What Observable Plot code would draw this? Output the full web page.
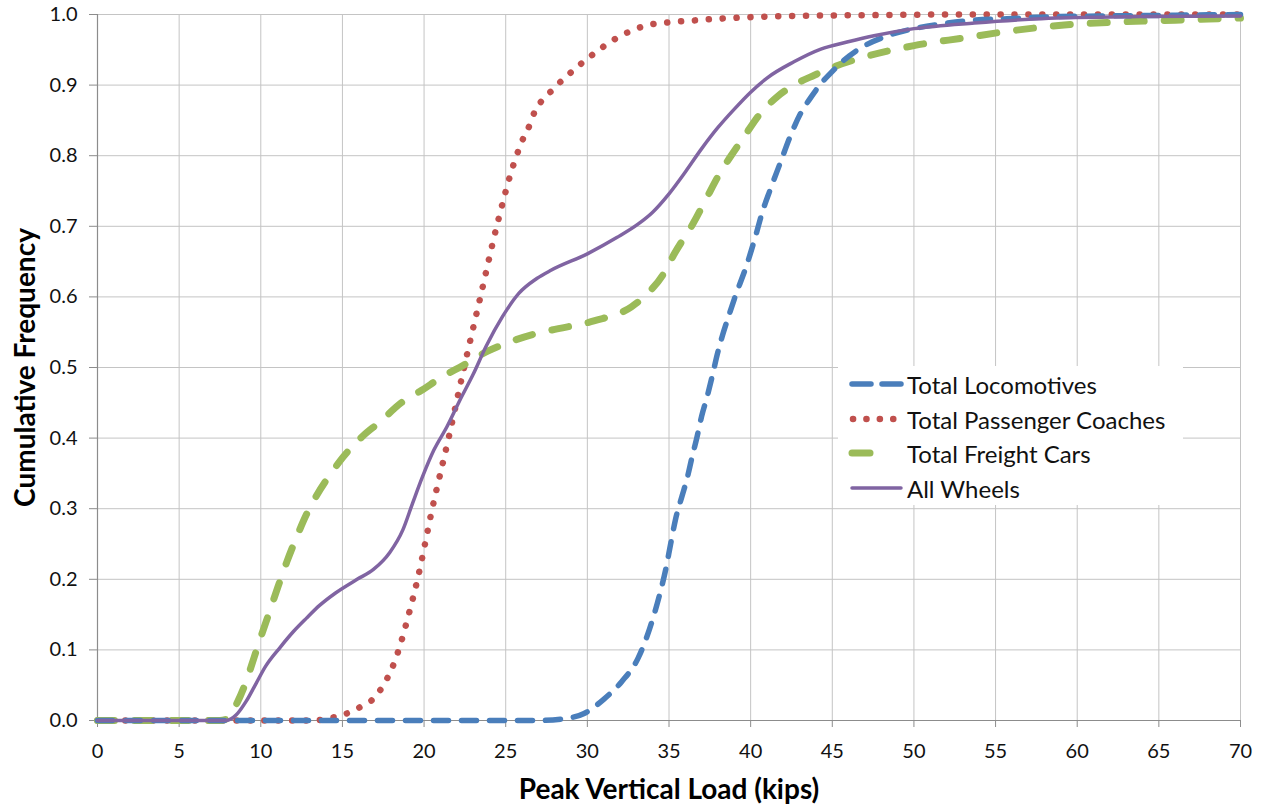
<!DOCTYPE html>
<html>
<head>
<meta charset="utf-8">
<script src="https://cdn.jsdelivr.net/npm/d3@7"></script>
<script src="https://cdn.jsdelivr.net/npm/@observablehq/plot@0.6"></script>
<style>
  body { margin: 0; background: #fff; font-family: Lato, "Open Sans", sans-serif; }
  #wrap { position: relative; width: 1264px; height: 805px; }
  #legend { position: absolute; left: 838px; top: 366px; width: 345px; height: 139px; background: #fff; }
  .row { position: absolute; left: 0; height: 30px; display: flex; align-items: center; font-size: 24px; color: #111; white-space: nowrap; }
  .row svg { display: block; }
</style>
</head>
<body>
<div id="wrap"><div id="chart"></div><div id="legend"></div></div>
<script>
// ---- data ----
const xTicks = [0, 5, 10, 15, 20, 25, 30, 35, 40, 45, 50, 55, 60, 65, 70];
const yTicks = [0, 0.1, 0.2, 0.3, 0.4, 0.5, 0.6, 0.7, 0.8, 0.9, 1.0];

const seriesNames = ["Total Locomotives", "Total Passenger Coaches", "Total Freight Cars", "All Wheels"];

const locoX = [0, 10, 20, 27, 28.4, 29.8, 31.0, 32.1, 33.1, 33.8, 34.4, 34.8, 35.1, 35.4, 35.8, 36.1, 36.4, 36.7, 37.0, 37.35, 37.65, 37.96, 38.27, 38.6, 39.0, 39.8, 40.3, 40.7, 41.2, 41.8, 42.45, 43.06, 43.7, 44.3, 44.9, 45.7, 46.7, 48.4, 50, 51.8, 53.7, 55.7, 58.8, 62, 66, 70];
const locoY = [0, 0, 0, 0, 0.002, 0.01, 0.03, 0.055, 0.088, 0.129, 0.176, 0.214, 0.25, 0.285, 0.318, 0.342, 0.372, 0.40, 0.431, 0.46, 0.488, 0.519, 0.545, 0.569, 0.597, 0.648, 0.686, 0.719, 0.752, 0.789, 0.829, 0.86, 0.883, 0.902, 0.917, 0.935, 0.952, 0.97, 0.98, 0.987, 0.992, 0.994, 0.997, 0.998, 0.999, 1.0];

const passX = [0, 10, 13, 14, 14.7, 15.5, 16.3, 17.0, 17.5, 18.0, 18.5, 19.0, 19.6, 20.5, 21.5, 22.45, 23.45, 24.45, 25.5, 26.1, 26.5, 26.8, 27.3, 27.9, 28.55, 29.2, 29.86, 30.55, 31.2, 31.9, 32.8, 33.7, 35.0, 36.2, 38.0, 39.7, 42.6, 47, 52, 70];
const passY = [0, 0, 0, 0.002, 0.006, 0.012, 0.022, 0.033, 0.05, 0.072, 0.104, 0.145, 0.2, 0.3, 0.4, 0.5, 0.6, 0.7, 0.789, 0.826, 0.845, 0.864, 0.88, 0.894, 0.909, 0.922, 0.935, 0.947, 0.958, 0.968, 0.978, 0.985, 0.989, 0.991, 0.994, 0.996, 0.998, 0.999, 1.0, 1.0];

const freightX = [0, 7.5, 7.9, 8.55, 9.1, 9.6, 10.0, 10.55, 11.06, 11.6, 12.2, 12.8, 13.4, 14.3, 15.0, 16.3, 17.3, 18.6, 19.8, 21.2, 22.4, 23.8, 25.0, 26.7, 27.8, 30.4, 32.7, 33.7, 34.7, 35.3, 36.5, 37.3, 38.06, 38.8, 39.6, 40.6, 41.6, 42.65, 43.9, 45.1, 47.0, 50, 53.1, 56, 59.2, 62.1, 66, 70];
const freightY = [0, 0, 0.002, 0.025, 0.055, 0.09, 0.118, 0.155, 0.19, 0.225, 0.26, 0.292, 0.318, 0.35, 0.372, 0.404, 0.423, 0.45, 0.467, 0.488, 0.503, 0.522, 0.534, 0.547, 0.553, 0.566, 0.586, 0.605, 0.634, 0.66, 0.705, 0.74, 0.773, 0.80, 0.827, 0.86, 0.883, 0.9, 0.914, 0.926, 0.94, 0.956, 0.967, 0.977, 0.985, 0.989, 0.992, 0.995];

const allX = [0, 7.9, 8.5, 9.1, 9.7, 10.3, 11.2, 12.0, 12.8, 13.6, 14.6, 15.9, 16.9, 17.9, 18.7, 19.3, 19.9, 20.6, 21.4, 22.2, 23.0, 23.8, 24.8, 25.8, 26.9, 27.8, 30, 31.8, 33.1, 34.0, 35.0, 36.0, 37.0, 38.0, 39.0, 40.0, 41.0, 42.65, 44.3, 45.9, 47.55, 50, 53.7, 57.8, 63.9, 70];
const allY = [0, 0, 0.008, 0.027, 0.052, 0.077, 0.104, 0.126, 0.145, 0.163, 0.181, 0.2, 0.214, 0.238, 0.27, 0.308, 0.345, 0.383, 0.416, 0.454, 0.49, 0.53, 0.572, 0.605, 0.626, 0.638, 0.661, 0.684, 0.703, 0.72, 0.746, 0.777, 0.81, 0.84, 0.866, 0.89, 0.91, 0.933, 0.951, 0.961, 0.97, 0.98, 0.988, 0.994, 0.997, 0.998];

// ---- styles ----
const styles = [
  {stroke: "#4A7EBB", strokeWidth: 5.5, dash: "15,13"},
  {stroke: "#C0504D", strokeWidth: 6.5, dash: "0.1,13.8"},
  {stroke: "#9BBB59", strokeWidth: 7, dash: "17,20"},
  {stroke: "#8064A2", strokeWidth: 3.5, dash: null}
];

const toRows = (xs, ys) => xs.map((x, i) => ({x, y: ys[i]}));
const series = [toRows(locoX, locoY), toRows(passX, passY), toRows(freightX, freightY), toRows(allX, allY)];

const lineMark = (k) => Plot.line(series[k], {
  x: "x", y: "y", curve: "monotone-x",
  stroke: styles[k].stroke, strokeWidth: styles[k].strokeWidth,
  strokeDasharray: styles[k].dash || undefined,
  strokeLinecap: "round", strokeLinejoin: "round"
});

const font = "Lato, 'Open Sans', sans-serif";

const chart = Plot.plot({
  width: 1264, height: 805,
  marginLeft: 97, marginRight: 24, marginTop: 14, marginBottom: 85,
  style: {fontFamily: font, background: "#fff", color: "#111", overflow: "visible"},
  x: {domain: [0, 70]},
  y: {domain: [0, 1]},
  marks: [
    Plot.gridX(xTicks, {stroke: "#c4c4c4", strokeOpacity: 1, strokeWidth: 1}),
    Plot.gridY(yTicks, {stroke: "#c4c4c4", strokeOpacity: 1, strokeWidth: 1}),
    Plot.ruleX([0], {stroke: "#8c8c8c", strokeWidth: 1.2}),
    Plot.ruleY([0], {stroke: "#8c8c8c", strokeWidth: 1.2}),
    Plot.axisX(xTicks, {tickSize: 7, tickPadding: 16, fontSize: 20, label: null, stroke: "#8c8c8c", fill: "#111"}),
    Plot.axisY(yTicks, {tickSize: 8, tickPadding: 12, fontSize: 20, label: null, tickFormat: d3.format(".1f"), stroke: "#8c8c8c", fill: "#111"}),
    lineMark(1),
    lineMark(2),
    lineMark(0),
    lineMark(3),
    Plot.text(["Peak Vertical Load (kips)"], {frameAnchor: "bottom", dy: 70, lineAnchor: "middle", textAnchor: "middle", text: d => d, fontSize: 28, fontWeight: "bold", fill: "#000"}),
    Plot.text(["Cumulative Frequency"], {frameAnchor: "left", dx: -71, rotate: -90, lineAnchor: "middle", textAnchor: "middle", text: d => d, fontSize: 28, fontWeight: "bold", fill: "#000"})
  ]
});
document.getElementById("chart").appendChild(chart);

// ---- legend ----
const legend = document.getElementById("legend");
const rowTops = [3, 38, 72, 107];
seriesNames.forEach((name, k) => {
  const row = document.createElement("div");
  row.className = "row";
  row.style.top = rowTops[k] + "px";
  const s = styles[k];
  const ns = "http://www.w3.org/2000/svg";
  const svg = document.createElementNS(ns, "svg");
  svg.setAttribute("width", 69); svg.setAttribute("height", 30);
  const ln = document.createElementNS(ns, "line");
  ln.setAttribute("x1", k === 1 ? 15 : 14); ln.setAttribute("x2", 63);
  ln.setAttribute("y1", 15); ln.setAttribute("y2", 15);
  ln.setAttribute("stroke", s.stroke);
  ln.setAttribute("stroke-width", s.strokeWidth);
  ln.setAttribute("stroke-linecap", "round");
  if (k === 0) ln.setAttribute("stroke-dasharray", "19,11");
  else if (k === 1) ln.setAttribute("stroke-dasharray", "0.1,13.3");
  else if (k === 2) ln.setAttribute("stroke-dasharray", "18,80");
  svg.appendChild(ln);
  row.appendChild(svg);
  const t = document.createElement("span");
  t.textContent = name;
  row.appendChild(t);
  legend.appendChild(row);
});
</script>
</body>
</html>
